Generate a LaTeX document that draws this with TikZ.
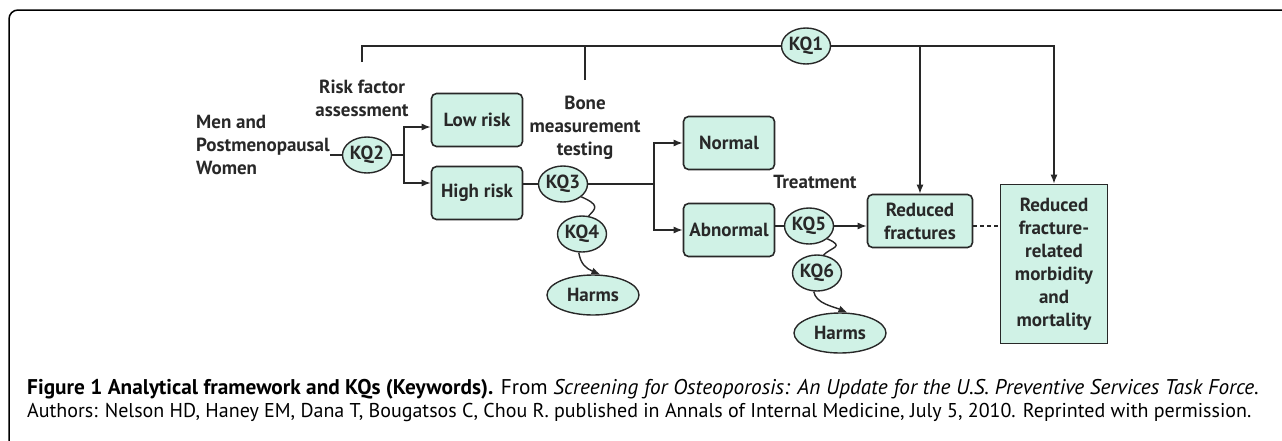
\documentclass[tikz,border=0pt]{standalone}
\usepackage{fontspec}
\setmainfont{PT Sans}
\usetikzlibrary{shapes.geometric,arrows.meta}
\definecolor{kqmint}{RGB}{208,242,230}
\definecolor{kqline}{RGB}{40,40,40}

\begin{document}
\begin{tikzpicture}[x=1pt,y=-1pt,
  every node/.style={font=\fontsize{19}{23}\selectfont\bfseries, text=kqline},
  box/.style={draw=kqline, line width=1.6pt, fill=kqmint, rounded corners=5pt,
    minimum width=91pt, minimum height=53pt, align=center, inner sep=1pt},
  kq/.style={draw=kqline, line width=1.4pt, fill=kqmint, ellipse,
    minimum width=49pt, minimum height=36pt, inner sep=0pt},
  harms/.style={kq, minimum width=92pt, minimum height=40pt},
  lbl/.style={align=center, inner sep=0pt},
  link/.style={draw=kqline, line width=1.4pt},
  arr/.style={link, -{Latex[length=9pt,width=7pt]}}]
\useasboundingbox (0,0) rectangle (1282,440);

% frame
\draw[line width=1.5pt, rounded corners=9pt] (9,441) -- (9,10) -- (1283,10);

% nodes
\node[lbl, align=left, anchor=west] (men) at (196,145) {Men and\\Postmenopausal\\Women};
\node[lbl] (riskfactor) at (362,98) {Risk factor\\assessment};
\node[lbl] (bonetest) at (585,128) {Bone\\measurement\\testing};
\node[lbl] (treatment) at (815,182) {Treatment};

\node[kq] (kq1) at (806,46) {KQ1};
\node[kq] (kq2) at (367,155) {KQ2};
\node[kq] (kq3) at (563,184) {KQ3};
\node[kq] (kq4) at (582,234) {KQ4};
\node[kq] (kq5) at (809,226) {KQ5};
\node[kq] (kq6) at (817,273) {KQ6};
\node[harms] (harms1) at (593,295) {Harms};
\node[harms] (harms2) at (840,333) {Harms};

\node[box] (lowrisk) at (477,120) {Low risk};
\node[box] (highrisk) at (477,193) {High risk};
\node[box] (normal) at (729,143) {Normal};
\node[box] (abnormal) at (729,230) {Abnormal};
\node[box, minimum width=105pt] (redfrac) at (920,221) {Reduced\\fractures};
\node[box, rounded corners=0pt, minimum width=107pt, minimum height=159pt]
  (mort) at (1054,264) {Reduced\\fracture-\\related\\morbidity\\and\\mortality};

\coordinate (rftop) at (362,62);
\coordinate (bmtop) at (585,80);
\coordinate (split2) at (404,155);
\coordinate (split3) at (654,184);

% connectors
\draw[link] (rftop) |- (kq1);
\draw[link] (bmtop) -- (bmtop |- kq1);
\draw[arr] (kq1) -| (redfrac);
\draw[arr] (kq1) -| (mort);

\draw[link] (men.east |- kq2) -- (kq2);
\draw[link] (kq2) -- (split2);
\draw[arr] (split2) |- ([yshift=-7pt]lowrisk.west);
\draw[arr] (split2) |- ([yshift=10pt]highrisk.west);

\draw[link] (highrisk.east |- kq3) -- (kq3);
\draw[link] (kq3) -- (split3);
\draw[arr] (split3) |- (normal.west);
\draw[arr] (split3) |- (abnormal.west);

\draw[link] (abnormal.east |- kq5) -- (kq5);
\draw[arr] (kq5) -- (kq5 -| redfrac.west);
\draw[link, dashed, dash pattern=on 4pt off 3pt] (redfrac.east |- kq5) -- (kq5 -| mort.west);

\draw[link] (kq3.-35) .. controls +(18,8) and +(8,-8) .. (kq4.70);
\draw[arr] (kq4.-100) .. controls +(2,12) and +(-14,-6) .. (harms1.70);
\draw[link] (kq5.-35) .. controls +(18,8) and +(8,-8) .. (kq6.70);
\draw[arr] (kq6.-100) .. controls +(2,12) and +(-14,-6) .. (harms2.70);

% caption
\node[anchor=north west, align=left, inner sep=0pt, text=black,
  font=\fontsize{21.3}{23}\selectfont] (caption) at (27,379)
  {\textbf{Figure 1 Analytical framework and KQs (Keywords).} From \textit{Screening for Osteoporosis: An Update for the U.S. Preventive Services Task Force.}\\
   \fontsize{20}{23}\selectfont Authors: Nelson HD, Haney EM, Dana T, Bougatsos C, Chou R. published in Annals of Internal Medicine, July 5, 2010. Reprinted with permission.};
\end{tikzpicture}
\end{document}
